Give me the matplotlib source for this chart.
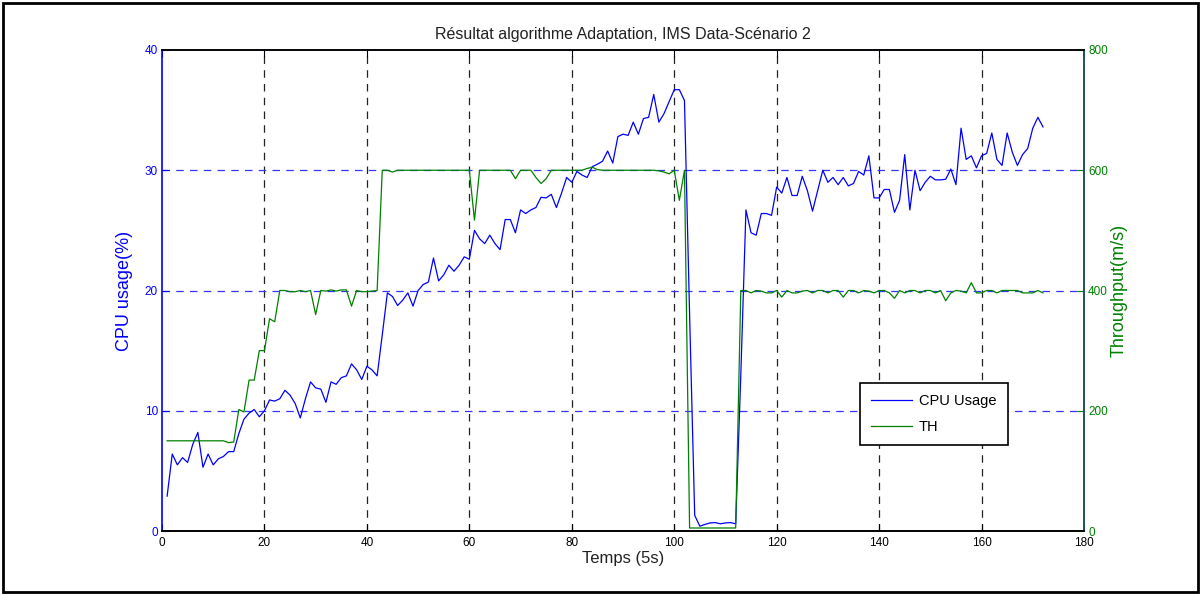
import matplotlib
matplotlib.use("Agg")
import matplotlib.pyplot as plt
from matplotlib.patches import Rectangle

plt.rcParams['font.family'] = ['Liberation Sans', 'DejaVu Sans']

# ---------------- data ----------------
time = list(range(1, 173))

cpu = [2.9, 6.4, 5.5, 6.1, 5.7, 7.2, 8.2, 5.3, 6.4, 5.5,
       6.0, 6.2, 6.6, 6.6, 8.1, 9.3, 9.8, 10.1, 9.5, 10.0,
       10.9, 10.8, 11.0, 11.7, 11.3, 10.6, 9.4, 11.0, 12.4, 11.9,
       11.8, 10.7, 12.4, 12.2, 12.75, 12.9, 13.9, 13.4, 12.6, 13.7,
       13.4, 12.9, 16.3, 19.8, 19.5, 18.75, 19.2, 19.8, 18.7, 20.0,
       20.5, 20.7, 22.7, 20.8, 21.3, 22.1, 21.6, 22.1, 22.8, 22.6,
       25.0, 24.3, 23.9, 24.6, 23.9, 23.4, 25.9, 25.9, 24.8, 26.7,
       26.4, 26.7, 26.9, 27.75, 27.7, 28.0, 26.9, 28.1, 29.4, 29.0,
       29.9, 29.6, 29.4, 30.3, 30.5, 30.75, 31.6, 30.6, 32.8, 33.0,
       32.9, 34.0, 33.0, 34.3, 34.4, 36.3, 34.0, 34.7, 35.7, 36.7,
       36.7, 35.8, 18.0, 1.3, 0.4, 0.55, 0.67, 0.7, 0.6, 0.67,
       0.7, 0.6, 13.0, 26.7, 24.8, 24.6, 26.4, 26.4, 26.25, 28.6,
       28.1, 29.4, 27.9, 27.9, 29.5, 28.3, 26.6, 28.3, 30.0, 29.0,
       29.4, 28.8, 29.4, 28.7, 28.9, 29.9, 29.6, 31.2, 27.7, 27.7,
       28.4, 28.4, 26.5, 27.5, 31.3, 26.7, 30.0, 28.3, 29.0, 29.5,
       29.2, 29.2, 29.25, 30.1, 28.8, 33.5, 30.9, 31.2, 30.2, 31.2,
       31.4, 33.1, 30.9, 30.4, 33.1, 31.5, 30.4, 31.3, 31.8, 33.5,
       34.4, 33.6]

th = [150, 150, 150, 150, 150, 150, 150, 150, 150, 150,
      150, 150, 147, 148, 202, 198, 251, 251, 300, 300,
      353, 348, 400, 400, 398, 398, 400, 398, 400, 360,
      400, 399, 401, 399, 401, 401, 374, 400, 398, 398,
      399, 400, 600, 600, 597, 600, 600, 600, 600, 600,
      600, 600, 600, 600, 600, 600, 600, 600, 600, 600,
      517, 600, 600, 600, 600, 600, 600, 600, 586, 600,
      600, 600, 588, 578, 586, 600, 600, 600, 600, 600,
      600, 600, 603, 605, 601, 600, 600, 600, 600, 600,
      600, 600, 600, 600, 600, 600, 599, 597, 594, 600,
      550, 600, 5, 5, 5, 5, 5, 5, 5, 5,
      5, 5, 400, 400, 396, 400, 399, 396, 396, 400,
      389, 400, 396, 396, 399, 400, 396, 400, 400, 396,
      400, 400, 389, 400, 400, 396, 400, 399, 396, 400,
      400, 396, 387, 400, 396, 400, 400, 396, 400, 400,
      396, 400, 383, 396, 400, 399, 396, 413, 396, 396,
      400, 400, 396, 400, 400, 400, 400, 396, 396, 396,
      400, 396]

x_ticks = [0, 20, 40, 60, 80, 100, 120, 140, 160, 180]
cpu_ticks = [0, 10, 20, 30, 40]
th_ticks = [0, 200, 400, 600, 800]

title = "Résultat algorithme Adaptation, IMS Data-Scénario 2"

# ---------------- figure ----------------
W, H = 1202, 595
fig = plt.figure(figsize=(W / 100, H / 100), dpi=100)
fig.patches.append(Rectangle((3 / W, 3 / H), 1195 / W, 589 / H, transform=fig.transFigure,
                             fill=False, edgecolor='black', linewidth=2))

left, right, top, bottom = 162, 1084, 50, 531
ax = fig.add_axes([left / W, 1 - bottom / H, (right - left) / W, (bottom - top) / H])
ax2 = ax.twinx()

blue = '#0000ff'
green = '#008000'

l1, = ax.plot(time, cpu, color=blue, linewidth=0.9)
l2, = ax2.plot(time, th, color=green, linewidth=0.9)

ax.set_xlim(0, 180)
ax.set_ylim(0, 40)
ax2.set_ylim(0, 800)
ax.set_xticks(x_ticks)
ax.set_yticks(cpu_ticks)
ax2.set_yticks(th_ticks)

# grids
for xv in x_ticks[1:-1]:
    ax.axvline(xv, color='#222222', linestyle=(0, (6, 5)), linewidth=0.9, zorder=0.5)
for yv in cpu_ticks[1:-1]:
    ax.axhline(yv, color='#3535ff', linestyle=(0, (6, 5)), linewidth=0.9, zorder=0.5)

ax.tick_params(axis='x', direction='in', top=True, labelsize=8.5, colors='black', length=5, pad=4)
ax.tick_params(axis='y', direction='in', labelsize=8.5, colors=blue, length=5, pad=3)
ax2.tick_params(axis='y', direction='in', labelsize=8.5, colors=green, length=5, pad=3)

ax.spines['left'].set_color(blue)
ax.spines['bottom'].set_color('black')
ax.spines['top'].set_color('#202040')
ax2.spines['right'].set_color('#205060')
ax2.spines['left'].set_visible(False)
ax.spines['right'].set_color('#205060')
for sp in list(ax.spines.values()) + list(ax2.spines.values()):
    sp.set_linewidth(1.2)

ax.set_title(title, fontsize=11.5, color='#222222', pad=8)
ax.set_xlabel("Temps (5s)", fontsize=12, color='#222222', labelpad=2)
ax.set_ylabel("CPU usage(%)", fontsize=13, color=blue, labelpad=8)
ax2.set_ylabel("Throughput(m/s)", fontsize=13, color=green, labelpad=2)

leg = ax2.legend([l1, l2], ["CPU Usage", "TH"], loc='upper left',
                 bbox_to_anchor=((860 - left) / (right - left), (bottom - 383) / (bottom - top)),
                 fancybox=False, edgecolor='black', framealpha=1, fontsize=10.5,
                 handlelength=2.8, handletextpad=0.5, borderpad=0.75, labelspacing=0.85,
                 borderaxespad=0)
leg.get_frame().set_linewidth(1.2)

fig.savefig("out.png", dpi=100)
